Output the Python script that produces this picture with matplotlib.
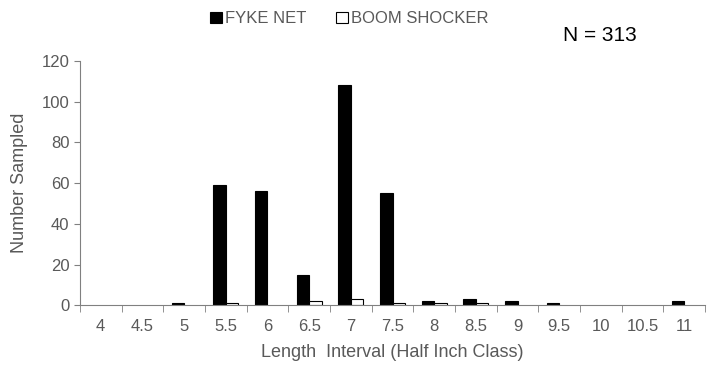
import numpy as np
import matplotlib
matplotlib.use('Agg')
import matplotlib.pyplot as plt

plt.rcParams['font.family'] = ['Liberation Sans', 'DejaVu Sans']

categories = ['4', '4.5', '5', '5.5', '6', '6.5', '7', '7.5', '8', '8.5', '9', '9.5', '10', '10.5', '11']
fyke_net = [0, 0, 1, 59, 56, 15, 108, 55, 2, 3, 2, 1, 0, 0, 2]
boom_shocker = [0, 0, 0, 1, 0, 2, 3, 1, 1, 1, 0, 0, 0, 0, 0]

grey = '#595959'
fig = plt.figure(figsize=(7.13, 3.70), dpi=100)
ax = fig.add_axes([0.112, 0.175, 0.877, 0.66])

x = np.arange(len(categories))
w = 0.3
# no outline on empty bars
lw_f = [0.8 if v > 0 else 0 for v in fyke_net]
lw_b = [0.8 if v > 0 else 0 for v in boom_shocker]
ax.bar(x - w / 2, fyke_net, width=w, color='black', edgecolor='black', linewidth=lw_f, label='FYKE NET')
ax.bar(x + w / 2, boom_shocker, width=w, color='white', edgecolor='black', linewidth=lw_b, label='BOOM SHOCKER')

ax.set_xlim(-0.5, len(categories) - 0.5)
ax.set_ylim(0, 120)
ax.set_yticks(range(0, 121, 20))
ax.set_xticks(x)
ax.set_xticklabels(categories)
ax.set_xticks(np.arange(-0.5, len(categories), 1), minor=True)
ax.tick_params(axis='x', which='major', length=0, colors=grey, labelsize=12, pad=10)
ax.tick_params(axis='x', which='minor', length=5, color='#808080', direction='out')
ax.tick_params(axis='y', length=4, color='#808080', colors=grey, labelsize=12)

for s in ['top', 'right']:
    ax.spines[s].set_visible(False)
ax.spines['left'].set_color('#808080')
ax.spines['bottom'].set_color('#808080')

ax.set_xlabel('Length  Interval (Half Inch Class)', color=grey, fontsize=13, labelpad=7)
ax.set_ylabel('Number Sampled', color=grey, fontsize=13, labelpad=10)

leg = fig.legend(loc='upper center', bbox_to_anchor=(0.49, 1.01), ncol=2, frameon=False,
                 fontsize=12, handlelength=0.7, handleheight=0.7, handletextpad=0.2, columnspacing=1.8)
for t in leg.get_texts():
    t.set_color(grey)
for h in leg.legend_handles:
    h.set_linewidth(0.8)
    h.set_edgecolor('black')

fig.text(0.79, 0.89, 'N = 313', fontsize=15, color='black')

fig.savefig('out.png', dpi=100)
